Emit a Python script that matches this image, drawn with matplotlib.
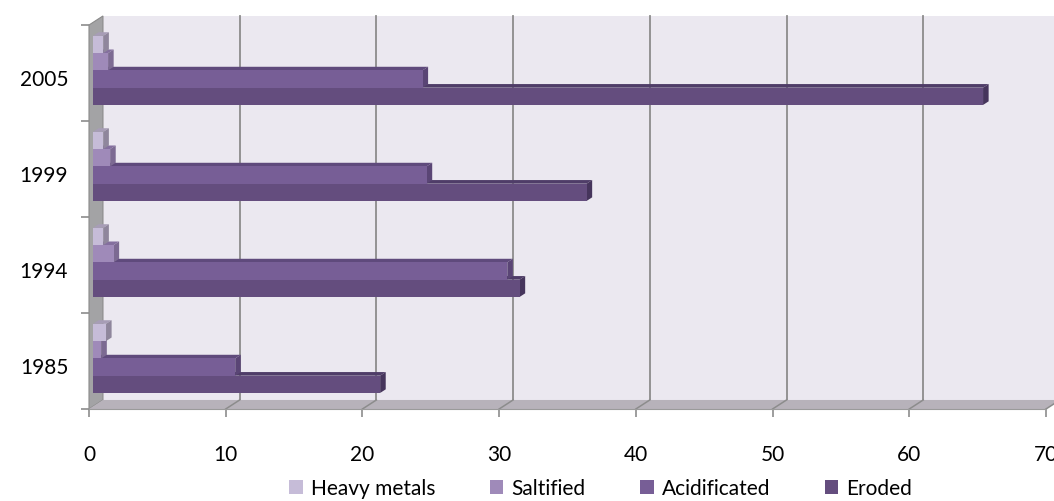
import matplotlib.pyplot as plt
from matplotlib.patches import Polygon, Patch

plt.rcParams['font.family'] = ['Lato', 'DejaVu Sans']

years = ['1985', '1994', '1999', '2005']
heavy_metals = [0.95, 0.75, 0.75, 0.75]
saltified = [0.6, 1.5, 1.25, 1.1]
acidificated = [10.4, 30.3, 24.4, 24.1]
eroded = [21.0, 31.2, 36.1, 65.1]

series = ['Heavy metals', 'Saltified', 'Acidificated', 'Eroded']
values = [heavy_metals, saltified, acidificated, eroded]
front = ['#c6bcd8', '#9f8ab9', '#775e96', '#644d7e']
side = ['#8f869c', '#7c6a92', '#5a4575', '#46355c']
top = ['#a79db6', '#846f9e', '#5f4a7c', '#4f3d68']
offsets = [0.27, 0.09, -0.09, -0.27]
bar_h = 0.18

# oblique depth of the box (value units, category units)
DX, DY = 1.02, 0.094
XMAX = 70
# bars sit part way into the box and have their own depth
f, bd = 0.29, 0.40
ox, oy = f * DX, f * DY
sx, sy = bd * DX, bd * DY

fig = plt.figure(figsize=(10.54, 5.02), dpi=100)
ax = fig.add_axes([89 / 1054, 92 / 502, 957 / 1054, 384 / 502])
ax.set_xlim(0, XMAX)
ax.set_ylim(-0.5, 3.5)
for s in ax.spines.values():
    s.set_visible(False)
ax.patch.set_visible(False)

y0, y1 = -0.5, 3.5
# back wall, side wall and floor
ax.add_patch(Polygon([(DX, y0 + DY), (XMAX + DX, y0 + DY), (XMAX + DX, y1 + DY), (DX, y1 + DY)],
                     closed=True, fc='#ebe8f0', ec='none', zorder=0, clip_on=False))
ax.add_patch(Polygon([(0, y0), (0, y1), (DX, y1 + DY), (DX, y0 + DY)],
                     closed=True, fc='#a3a3a5', ec='#8a8a8a', lw=0.8, zorder=1, clip_on=False))
ax.add_patch(Polygon([(0, y0), (XMAX, y0), (XMAX + DX, y0 + DY), (DX, y0 + DY)],
                     closed=True, fc='#b7b2ba', ec='none', zorder=1, clip_on=False))

# grid on back wall and floor
for v in range(10, XMAX + 1, 10):
    ax.plot([v + DX, v + DX], [y0 + DY, y1 + DY], color='#8c8c8c', lw=1.3, zorder=0.5, clip_on=False)
    ax.plot([v, v + DX], [y0, y0 + DY], color='#8c8c8c', lw=1.1, zorder=1.5, clip_on=False)

ax.plot([0, XMAX], [y0, y0], color='#9a9a9a', lw=0.8, zorder=1.6, clip_on=False)

z = 2
for i, yr in enumerate(years):
    for k in range(3, -1, -1):
        v = values[k][i]
        yb = i + offsets[k] - bar_h / 2 + oy
        yt = yb + bar_h
        xe = ox + v
        ax.add_patch(Polygon([(ox, yt), (xe, yt), (xe + sx, yt + sy), (ox + sx, yt + sy)],
                             closed=True, fc=top[k], ec='none', zorder=z, clip_on=False))
        ax.add_patch(Polygon([(xe, yb), (xe, yt), (xe + sx, yt + sy), (xe + sx, yb + sy)],
                             closed=True, fc=side[k], ec='none', zorder=z, clip_on=False))
        ax.barh(i + offsets[k] + oy, v, left=ox, height=bar_h, color=front[k],
                edgecolor='none', zorder=z + 0.5, clip_on=False)
        z += 1

ax.set_xticks(range(0, XMAX + 1, 10))
ax.tick_params(axis='x', length=6, color='#8c8c8c', width=1.2, pad=19, labelsize=15)
ax.set_yticks([i - 0.04 for i in range(len(years))])
ax.set_yticklabels(years)
ax.tick_params(axis='y', which='major', length=0, pad=15, labelsize=15)
ax.set_yticks([-0.5, 0.5, 1.5, 2.5, 3.5], minor=True)
ax.tick_params(axis='y', which='minor', length=5.5, color='#8c8c8c', width=1.2)

handles = [Patch(facecolor=c, edgecolor='none') for c in front]
fig.legend(handles, series, loc='center', bbox_to_anchor=(0.57, 0.025), ncol=4, frameon=False,
           fontsize=15, handlelength=0.65, handleheight=0.65, handletextpad=0.4, columnspacing=2.6)

fig.savefig('out.png', dpi=100)
